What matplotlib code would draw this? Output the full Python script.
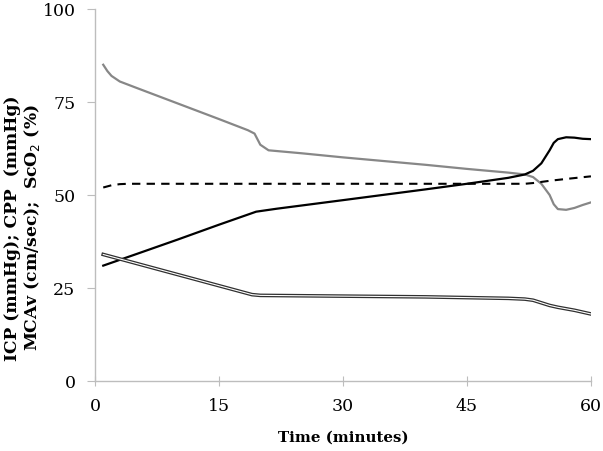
import matplotlib
matplotlib.use("Agg")
import matplotlib.pyplot as plt

# Time (minutes) and series values
sco2_t = [1, 1.5, 2, 3, 5, 10, 15, 18.5, 19.3, 20, 21, 25, 30, 35, 40, 45,
          50, 52, 53, 54, 55, 55.5, 56, 57, 58, 59, 60]
sco2 = [85, 83.3, 82, 80.5, 78.8, 74.6, 70.4, 67.4, 66.5, 63.5, 62, 61.2,
        60.1, 59.1, 58.1, 57, 56, 55.5, 54.8, 53, 50, 47.5, 46.2, 46, 46.5,
        47.3, 48]

mcav_t = [1, 5, 10, 15, 19.5, 22, 30, 40, 45, 50, 52, 53, 54, 55, 55.5, 56,
          57, 58, 59, 60]
mcav = [31, 34.1, 38, 42, 45.5, 46.3, 48.6, 51.5, 53, 54.6, 55.5, 56.5,
        58.5, 62, 64, 65, 65.5, 65.4, 65.1, 65]

cpp_t = [1, 2, 3, 4, 10, 20, 30, 40, 50, 52, 53, 55, 57, 60]
cpp = [52, 52.6, 52.9, 53, 53, 53, 53, 53, 53, 53, 53.2, 53.8, 54.3, 55]

icp_t = [1, 5, 10, 15, 19, 20, 25, 30, 40, 45, 50, 52, 53, 54, 55, 56, 57,
         58, 60]
icp = [34, 31.6, 28.6, 25.6, 23.2, 23, 22.9, 22.8, 22.6, 22.4, 22.2, 22,
       21.7, 21, 20.3, 19.8, 19.4, 19, 18]

x_ticks = [0, 15, 30, 45, 60]
y_ticks = [0, 25, 50, 75, 100]

plt.rcParams["font.family"] = "DejaVu Serif"

fig = plt.figure(figsize=(6.03, 4.52), dpi=100)
ax = fig.add_axes([0.1575, 0.155, 0.8225, 0.823])

ax.plot(sco2_t, sco2, color="#878787", lw=1.6)
ax.plot(mcav_t, mcav, color="black", lw=1.6)
ax.plot(cpp_t, cpp, color="black", lw=1.5, ls=(0, (4, 3)))
# double line
ax.plot(icp_t, icp, color="#303030", lw=2.6)
ax.plot(icp_t, icp, color="white", lw=0.8)

ax.set_xlim(0, 60)
ax.set_ylim(0, 100)
ax.set_xticks(x_ticks)
ax.set_yticks(y_ticks)

for side in ["top", "right"]:
    ax.spines[side].set_visible(False)
for side in ["left", "bottom"]:
    ax.spines[side].set_color("#bdbdbd")
    ax.spines[side].set_linewidth(1.0)

ax.tick_params(axis="y", direction="out", length=6, color="#bdbdbd",
               labelsize=12.5, pad=8)
ax.tick_params(axis="x", direction="inout", length=7, color="#bdbdbd",
               labelsize=12.5, pad=8)

ax.set_xlabel("Time (minutes)", fontsize=10.8, fontweight="bold", labelpad=11)
fig.text(0.038, 0.496, "ICP (mmHg); CPP  (mmHg)\nMCAv (cm/sec);  ScO$_2$ (%)",
         rotation=90, ha="center", va="center", fontsize=12.3,
         fontweight="bold", multialignment="center", linespacing=1.1)

fig.savefig("out.png", dpi=100)
